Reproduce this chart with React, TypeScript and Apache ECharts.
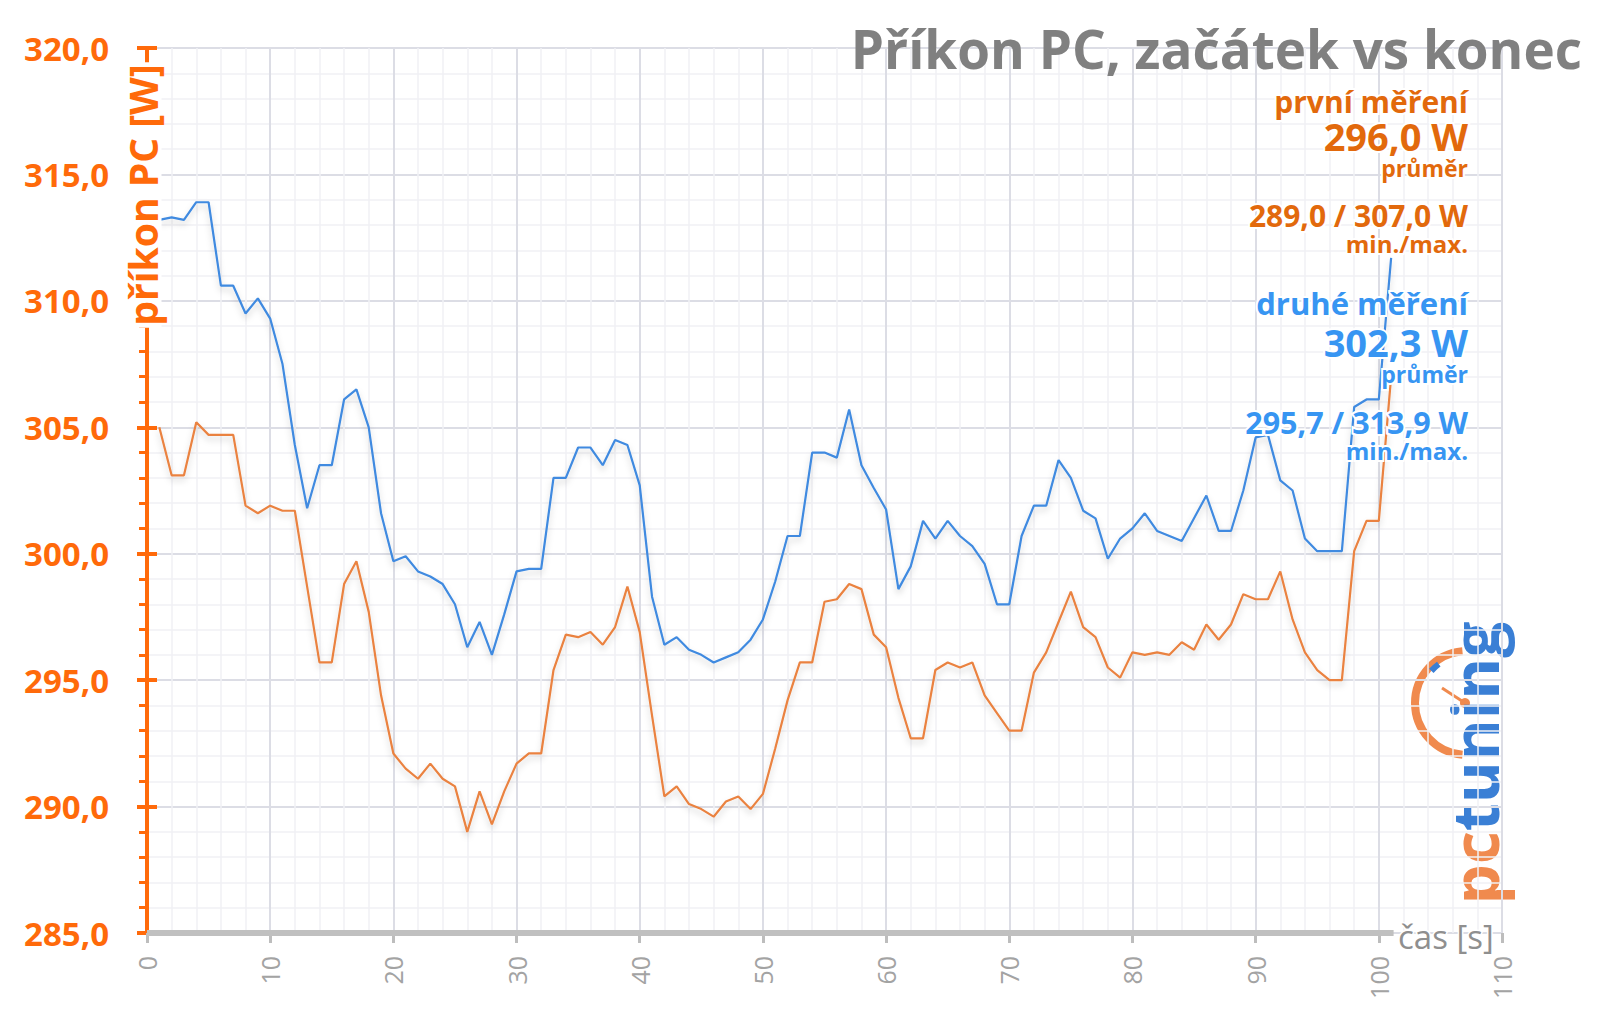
import React, { useEffect, useRef } from "react";
import * as echarts from "echarts";

const FONT = '"Open Sans", "DejaVu Sans", sans-serif';

const TITLE = "Příkon PC, začátek vs konec";
const Y_NAME = "příkon PC [W]";
const X_NAME = "čas [s]";

const TIME = Array.from({ length: 101 }, (_, i) => i + 1);

const FIRST = [
  305.0, 303.1, 303.1, 305.2, 304.7, 304.7, 304.7, 301.9, 301.6, 301.9,
  301.7, 301.7, 298.7, 295.7, 295.7, 298.8, 299.7, 297.7, 294.4, 292.1,
  291.5, 291.1, 291.7, 291.1, 290.8, 289.0, 290.6, 289.3, 290.6, 291.7,
  292.1, 292.1, 295.4, 296.8, 296.7, 296.9, 296.4, 297.1, 298.7, 296.9,
  293.6, 290.4, 290.8, 290.1, 289.9, 289.6, 290.2, 290.4, 289.9, 290.5,
  292.3, 294.2, 295.7, 295.7, 298.1, 298.2, 298.8, 298.6, 296.8, 296.3,
  294.3, 292.7, 292.7, 295.4, 295.7, 295.5, 295.7, 294.4, 293.7, 293.0,
  293.0, 295.3, 296.1, 297.3, 298.5, 297.1, 296.7, 295.5, 295.1, 296.1,
  296.0, 296.1, 296.0, 296.5, 296.2, 297.2, 296.6, 297.2, 298.4, 298.2,
  298.2, 299.3, 297.4, 296.1, 295.4, 295.0, 295.0, 300.1, 301.3, 301.3,
  307.0,
];

const SECOND = [
  313.2, 313.3, 313.2, 313.9, 313.9, 310.6, 310.6, 309.5, 310.1, 309.3,
  307.5, 304.3, 301.8, 303.5, 303.5, 306.1, 306.5, 305.0, 301.6, 299.7,
  299.9, 299.3, 299.1, 298.8, 298.0, 296.3, 297.3, 296.0, 297.6, 299.3,
  299.4, 299.4, 303.0, 303.0, 304.2, 304.2, 303.5, 304.5, 304.3, 302.7,
  298.3, 296.4, 296.7, 296.2, 296.0, 295.7, 295.9, 296.1, 296.6, 297.4,
  298.9, 300.7, 300.7, 304.0, 304.0, 303.8, 305.7, 303.5, 302.6, 301.75,
  298.6, 299.5, 301.3, 300.6, 301.3, 300.7, 300.3, 299.6, 298.0, 298.0,
  300.7, 301.9, 301.9, 303.7, 303.0, 301.7, 301.4, 299.8, 300.6, 301.0,
  301.6, 300.9, 300.7, 300.5, 301.4, 302.3, 300.9, 300.9, 302.5, 304.6,
  304.7, 302.9, 302.5, 300.6, 300.1, 300.1, 300.1, 305.8, 306.1, 306.1,
  311.7,
];

const X_MIN = 0;
const X_MAX = 110;
const X_STEP = 10;
const X_AXIS_END = 101.2;
const Y_MIN = 285;
const Y_MAX = 320;
const Y_STEP = 5;

// right-hand annotation block: [text, y, size, colour key]
const NOTES: [string, number, number, string][] = [
  ["první měření", 101, 30, "o"],
  ["296,0 W", 136, 38, "o"],
  ["průměr", 168, 23, "o"],
  ["289,0 / 307,0 W", 215, 30, "o"],
  ["min./max.", 243, 24, "o"],
  ["druhé měření", 303, 31, "b"],
  ["302,3 W", 342, 38, "b"],
  ["průměr", 374, 23, "b"],
  ["295,7 / 313,9 W", 422, 30.5, "b"],
  ["min./max.", 450, 24, "b"],
];

const C_ORANGE_TEXT = "#e2690c";
const C_BLUE_TEXT = "#3795f2";
const C_ORANGE_LINE = "#ea8240";
const C_BLUE_LINE = "#3f8ae0";
const C_AXIS_ORANGE = "#ff6a0a";
const C_GRID = "#dcdde5";
const C_GRID_MINOR = "#f0f0f4";

export default function App() {
  const ref = useRef<HTMLDivElement>(null);

  useEffect(() => {
    if (!ref.current) return;
    const chart = echarts.init(ref.current, undefined, { renderer: "svg" });

    const fmtY = (v: number) => v.toFixed(1).replace(".", ",");

    const notes = NOTES.map(([text, y, size, c]) => ({
      type: "text",
      z: 60,
      x: 1468,
      y,
      style: {
        text,
        align: "right",
        verticalAlign: "middle",
        fontFamily: FONT,
        fontWeight: "bold",
        fontSize: size,
        lineHeight: Math.round(size * 0.8),
        fill: c === "o" ? C_ORANGE_TEXT : C_BLUE_TEXT,
        stroke: "#ffffff",
        lineWidth: 4,
      },
    }));

    const option: any = {
      animation: false,
      backgroundColor: "#ffffff",
      textStyle: { fontFamily: FONT },
      grid: { left: 147, right: 98, top: 48, bottom: 84, containLabel: false },
      xAxis: {
        type: "value",
        min: X_MIN,
        max: X_MAX,
        interval: X_STEP,
        axisLine: { show: false },
        axisTick: {
          show: true,
          length: 10,
          lineStyle: { color: "#bdbdbd", width: 3 },
        },
        axisLabel: {
          rotate: 90,
          color: "#a3a3a3",
          fontSize: 25,
          margin: 23,
          fontFamily: FONT,
        },
        splitLine: { show: true, lineStyle: { color: C_GRID, width: 2 } },
        minorTick: { show: false, splitNumber: 5 },
        minorSplitLine: { show: true, lineStyle: { color: C_GRID_MINOR, width: 1.5 } },
      },
      yAxis: [
        {
          type: "value",
          min: Y_MIN,
          max: Y_MAX,
          interval: Y_STEP,
          axisLine: { show: true, lineStyle: { color: C_AXIS_ORANGE, width: 4 } },
          axisTick: {
            show: true,
            length: 10,
            lineStyle: { color: C_AXIS_ORANGE, width: 4 },
          },
          minorTick: {
            show: true,
            splitNumber: 5,
            length: 8,
            lineStyle: { color: C_AXIS_ORANGE, width: 3 },
          },
          axisLabel: {
            formatter: fmtY,
            color: C_AXIS_ORANGE,
            fontSize: 33,
            fontWeight: "bold",
            margin: 38,
            fontFamily: FONT,
          },
          splitLine: { show: true, lineStyle: { color: C_GRID, width: 2 } },
          minorSplitLine: { show: true, lineStyle: { color: C_GRID_MINOR, width: 1.5 } },
        },
        {
          type: "value",
          min: Y_MIN,
          max: Y_MAX,
          interval: Y_STEP,
          position: "left",
          axisLine: { show: false },
          axisLabel: { show: false },
          splitLine: { show: false },
          axisTick: {
            show: true,
            inside: true,
            length: 10,
            lineStyle: { color: C_AXIS_ORANGE, width: 4 },
          },
        },
      ],
      series: [
        {
          type: "line",
          silent: true,
          clip: false,
          symbol: "none",
          data: [
            [X_MIN, Y_MIN],
            [X_AXIS_END, Y_MIN],
          ],
          lineStyle: { color: "#c0c0c0", width: 6 },
          z: 1,
        },
        {
          type: "line",
          name: "druhé měření",
          symbol: "none",
          data: SECOND.map((v, i) => [TIME[i], v]),
          lineStyle: {
            color: C_BLUE_LINE,
            width: 2.2,
            shadowColor: "rgba(0,0,0,0.18)",
            shadowBlur: 6,
            shadowOffsetY: 4,
          },
          z: 3,
        },
        {
          type: "line",
          name: "první měření",
          symbol: "none",
          data: FIRST.map((v, i) => [TIME[i], v]),
          lineStyle: {
            color: C_ORANGE_LINE,
            width: 2.2,
            shadowColor: "rgba(0,0,0,0.18)",
            shadowBlur: 6,
            shadowOffsetY: 4,
          },
          z: 4,
        },
      ],
      graphic: [
        {
          type: "text",
          z: 60,
          x: 1582,
          y: 48,
          style: {
            text: TITLE,
            align: "right",
            verticalAlign: "middle",
            fontFamily: FONT,
            fontWeight: "bold",
            fontSize: 53,
            fill: "#808080",
          },
        },
        {
          type: "text",
          z: 60,
          x: 142,
          y: 195,
          rotation: Math.PI / 2,
          style: {
            text: Y_NAME,
            align: "center",
            verticalAlign: "middle",
            fontFamily: FONT,
            fontWeight: "bold",
            fontSize: 39,
            fill: C_AXIS_ORANGE,
            backgroundColor: "#ffffff",
            padding: [0, 2],
          },
        },
        {
          type: "text",
          z: 60,
          x: 1398,
          y: 936,
          style: {
            text: X_NAME,
            align: "left",
            verticalAlign: "middle",
            fontFamily: FONT,
            fontSize: 33,
            fill: "#8f8f8f",
            stroke: "#ffffff",
            lineWidth: 3,
          },
        },
        ...notes,
        {
          type: "group",
          z: 40,
          children: [
            {
              type: "arc",
              shape: {
                cx: 1467,
                cy: 703,
                r: 52,
                startAngle: (95 * Math.PI) / 180,
                endAngle: (265 * Math.PI) / 180,
                clockwise: true,
              },
              style: { stroke: "#f08a4e", lineWidth: 8, fill: "none" },
            },
            {
              type: "arc",
              shape: {
                cx: 1467,
                cy: 703,
                r: 48,
                startAngle: (222 * Math.PI) / 180,
                endAngle: (234 * Math.PI) / 180,
                clockwise: true,
              },
              style: { stroke: "#3a7fd5", lineWidth: 6, fill: "none" },
            },
            {
              type: "line",
              shape: { x1: 1442, y1: 688, x2: 1465, y2: 703 },
              style: { stroke: "#f08a4e", lineWidth: 3 },
            },
            {
              type: "circle",
              shape: { cx: 1465, cy: 703, r: 5 },
              style: { fill: "#f08a4e" },
            },
            {
              type: "text",
              x: 1474,
              y: 763,
              rotation: Math.PI / 2,
              style: {
                text: "{a|pc}{b|tuning}",
                align: "center",
                verticalAlign: "middle",
                fontFamily: FONT,
                fontWeight: "bold",
                fontSize: 64,
                rich: {
                  a: { fill: "#f08a4e", fontSize: 64, fontWeight: "bold", fontFamily: FONT },
                  b: { fill: "#3a7fd5", fontSize: 64, fontWeight: "bold", fontFamily: FONT },
                },
              },
            },
          ],
        },
      ],
    };

    chart.setOption(option);
    return () => chart.dispose();
  }, []);

  return (
    <div
      ref={ref}
      style={{ position: "fixed", left: 0, top: 0, width: 1600, height: 1017, background: "#fff" }}
    />
  );
}
